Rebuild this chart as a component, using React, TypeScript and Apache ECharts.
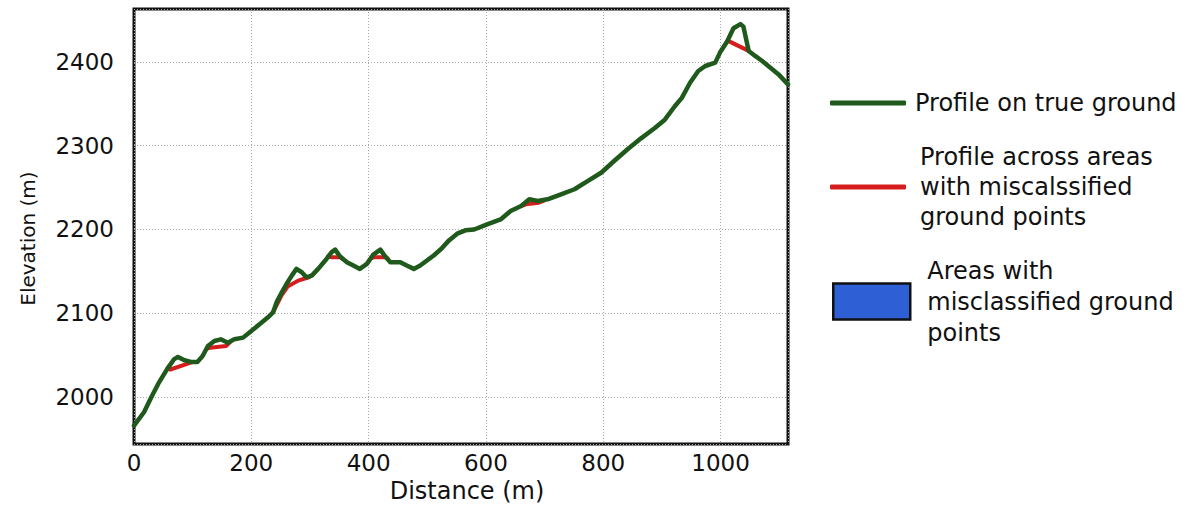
import React, { useEffect, useRef } from "react";
import * as echarts from "echarts";

// Distance along the profile (m)
const groundDistance = [
  0, 17, 31, 43, 57, 68, 75, 86, 97, 108, 117, 126, 137, 148, 160, 171, 186, 200, 214, 228,
  237, 243, 252, 260, 269, 277, 286, 294, 303, 314, 326, 337, 343, 351, 363, 374, 385, 397, 408, 420,
  428, 437, 454, 465, 477, 488, 511, 524, 537, 551, 565, 580, 602, 625, 642, 660, 674, 688, 705, 728,
  751, 774, 797, 819, 842, 865, 888, 905, 922, 934, 948, 962, 974, 991, 999, 1011, 1022, 1034, 1039, 1048,
  1059, 1071, 1085, 1099, 1115,
];
// Elevation of the profile on true ground (m)
const groundElevation = [
  1966, 1982, 2002, 2018, 2034, 2045, 2048, 2044, 2042, 2042, 2049, 2061, 2067, 2069, 2065, 2069, 2071, 2079, 2087, 2095,
  2101, 2113, 2125, 2135, 2145, 2153, 2149, 2143, 2145, 2153, 2163, 2173, 2176, 2168, 2161, 2157, 2153, 2159, 2170, 2176,
  2168, 2161, 2161, 2157, 2153, 2157, 2169, 2177, 2187, 2195, 2199, 2200, 2206, 2212, 2222, 2228, 2236, 2234, 2236, 2242,
  2248, 2258, 2268, 2282, 2296, 2309, 2321, 2331, 2347, 2357, 2375, 2389, 2395, 2399, 2411, 2424, 2440, 2445, 2442, 2413,
  2407, 2401, 2393, 2385, 2373,
];

// Profile across areas with misclassified ground points (only where it departs from true ground)
const misclassDistance = [
  57, 62, 88, 100, null,
  124, 130, 157, 163, null,
  237, 252, 262, 280, 298, 303, null,
  331, 336, 352, 355, null,
  405, 410, 430, 433, null,
  660, 668, 690, 698, null,
  1011, 1013, 1048,
];
const misclassElevation = [
  2034, 2033, 2039, 2042, null,
  2058, 2059, 2061, 2065, null,
  2101, 2122, 2132, 2139, 2143, 2145, null,
  2168, 2167, 2167, 2165, null,
  2166, 2167, 2167, 2165, null,
  2228, 2230, 2232, 2234, null,
  2424, 2425, 2413,
];

const xTicks = [0, 200, 400, 600, 800, 1000];
const yTicks = [2000, 2100, 2200, 2300, 2400];

const NAME_GROUND = "Profile on true ground";
const NAME_MISCLASS = "Profile across areas\nwith miscalssified\nground points";
const NAME_AREAS = "Areas with\nmisclassified ground\npoints";

const GREEN = "#1f5a1c";
const RED = "#d61c1c";
const BLUE = "#2f5fd4";
const FONT = "DejaVu Sans";

export default function App() {
  const ref = useRef<HTMLDivElement>(null);

  useEffect(() => {
    if (!ref.current) return;
    const chart = echarts.init(ref.current, null, { renderer: "svg" });

    const groundData = groundDistance.map((d, i) => [d, groundElevation[i]]);
    const misclassData = misclassDistance.map((d, i) =>
      d === null ? [null, null] : [d, misclassElevation[i]]
    );

    const legendBase = {
      orient: "vertical",
      left: 830,
      padding: 0,
      selectedMode: false,
      itemWidth: 76,
      itemHeight: 5,
      icon: "roundRect",
    };

    chart.setOption({
      animation: false,
      backgroundColor: "#ffffff",
      textStyle: { fontFamily: FONT },
      grid: {
        left: 134,
        top: 9,
        right: 406,
        bottom: 63,
        show: true,
        borderColor: "#111111",
        borderWidth: 3,
        backgroundColor: "#ffffff",
        containLabel: false,
      },
      xAxis: {
        type: "value",
        min: 0,
        max: 1115,
        interval: 200,
        name: "Distance (m)",
        nameLocation: "middle",
        nameGap: 32,
        nameTextStyle: { fontSize: 24, color: "#111", fontFamily: FONT, padding: [0, 0, 0, 12] },
        axisLine: { show: false },
        axisTick: { show: false },
        axisLabel: {
          fontSize: 23,
          color: "#111",
          fontFamily: FONT,
          margin: 7,
          showMaxLabel: false,
          formatter: (v: number) => (xTicks.includes(v) ? String(v) : ""),
        },
        splitLine: { show: true, lineStyle: { color: "#a8a8a8", width: 1, type: [1, 2] } },
      },
      yAxis: {
        type: "value",
        min: 1944,
        max: 2463,
        splitNumber: 5,
        name: "Elevation (m)",
        nameLocation: "middle",
        nameGap: 96,
        nameRotate: 90,
        nameTextStyle: { fontSize: 20, color: "#111", fontFamily: FONT, padding: [0, 24, 0, 0] },
        axisLine: { show: false },
        axisTick: { show: false },
        axisLabel: {
          fontSize: 23,
          color: "#111",
          fontFamily: FONT,
          margin: 20,
          showMinLabel: false,
          showMaxLabel: false,
          formatter: (v: number) => (yTicks.includes(v) ? String(v) : ""),
        },
        splitLine: { show: true, lineStyle: { color: "#a8a8a8", width: 1, type: [1, 2] } },
      },
      legend: [
        {
          ...legendBase,
          top: 90,
          data: [{ name: NAME_GROUND, itemStyle: { color: GREEN, borderWidth: 0 } }],
          textStyle: { fontSize: 24, color: "#111", fontFamily: FONT, lineHeight: 26, padding: [0, 0, 0, 4] },
        },
        {
          ...legendBase,
          top: 142,
          data: [{ name: NAME_MISCLASS, itemStyle: { color: RED, borderWidth: 0 } }],
          textStyle: { fontSize: 24, color: "#111", fontFamily: FONT, lineHeight: 30, padding: [0, 0, 0, 9] },
        },
        {
          ...legendBase,
          left: 832,
          top: 255,
          itemWidth: 77,
          itemHeight: 36,
          icon: "rect",
          data: [
            {
              name: NAME_AREAS,
              itemStyle: { color: BLUE, borderColor: "#111111", borderWidth: 2.5 },
            },
          ],
          textStyle: { fontSize: 24, color: "#111", fontFamily: FONT, lineHeight: 31, padding: [0, 0, 0, 12] },
        },
      ],
      series: [
        {
          name: NAME_AREAS,
          type: "line",
          data: [],
          symbol: "none",
          itemStyle: { color: BLUE },
          lineStyle: { color: BLUE },
          areaStyle: { color: BLUE },
        },
        {
          name: NAME_MISCLASS,
          type: "line",
          data: misclassData,
          symbol: "none",
          connectNulls: false,
          silent: true,
          itemStyle: { color: RED },
          lineStyle: { color: RED, width: 4, cap: "round", join: "round" },
        },
        {
          name: NAME_GROUND,
          type: "line",
          data: groundData,
          symbol: "none",
          silent: true,
          itemStyle: { color: GREEN },
          lineStyle: { color: GREEN, width: 4.5, cap: "round", join: "round" },
        },
      ],
    });

    return () => chart.dispose();
  }, []);

  return (
    <div
      ref={ref}
      style={{ position: "absolute", left: 0, top: 0, width: 1194, height: 508, background: "#fff" }}
    />
  );
}
